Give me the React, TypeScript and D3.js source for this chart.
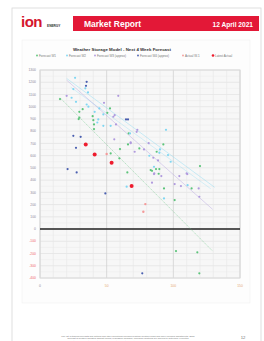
import { useMemo } from "react";
import * as d3 from "d3";

type Pt = [number, number];

const W = 264;
const H = 341;
const PLOT = { left: 40, right: 240, top: 70, bottom: 278 };

const yTicks = [1300, 1200, 1100, 1000, 900, 800, 700, 600, 500, 400, 300, 200, 100, 0, -100, -200, -300, -400];
const xTicks = [0, 50, 100, 150];

const seriesNames = [
  "Forecast W1",
  "Forecast W2",
  "Forecast W3 (approx)",
  "Forecast W4 (approx)",
  "Actual W-1",
  "Latest Actual",
];

const greenPts: Pt[] = [
  [15, 1062], [32, 980], [29.5, 958], [52.5, 986], [50.5, 950], [39.5, 923], [29.5, 910], [29, 899],
  [40, 890], [40.5, 855], [40.5, 817], [66.5, 782], [66, 692], [60, 654], [53, 618], [59.5, 578],
  [65.5, 463], [74.5, 659], [92.5, 692], [87.5, 632], [83, 482], [87, 490], [89.5, 490], [120, 515],
  [89, 452], [84, 476], [93, 332], [113.7, 332], [101, 237], [102, -180], [118, -190], [119.5, -362],
];
const lightBluePts: Pt[] = [
  [26.3, 1236], [25, 1144], [34, 1150], [36, 1117], [23.7, 1073], [27, 1040], [35, 1018], [36.3, 1000],
  [44.5, 986], [41, 958], [47.5, 937], [43.7, 896], [43, 871], [47.5, 844], [53, 844], [94.5, 811],
  [67.5, 782], [90, 651], [89.5, 623], [96, 605], [82, 599], [98, 550], [85.5, 509], [110.7, 359],
  [65, 346], [93, 250],
];
const purplePts: Pt[] = [
  [20, 1089], [58.7, 1089], [48, 1032], [56, 931], [55, 918], [57, 855], [55.7, 733], [72.5, 795],
  [68, 708], [71, 632], [73, 811], [68, 702], [81.5, 702], [78, 651], [85, 583], [88.5, 561],
  [85.7, 455], [110, 455], [85.5, 449], [91, 433], [104.5, 433], [110.5, 449], [84, 379], [101, 368],
  [105.7, 351], [119, 332], [119.5, 264],
];
const darkBluePts: Pt[] = [
  [35, 1203], [34.5, 1171], [64.5, 896], [66, 896], [25, 762], [30.5, 754], [27, 664], [20.7, 490],
  [27.5, 463], [49, 291], [76.7, -362],
];
const lightRedPts: Pt[] = [[50, 613], [79, 204], [77.5, 141]];
const redPts: Pt[] = [[34.3, 692], [41, 610], [53.7, 542], [68.7, 351]];

const trendLightBlue: Pt[] = [[20, 1231], [131, 341]];
const trendLightBlue2: Pt[] = [[23, 1160], [128, 330]];
const trendPurple: Pt[] = [[20, 1217], [129.5, 161]];
const trendGreen: Pt[] = [[15, 1073], [129.5, -180]];

const COLORS = ["#5cc47a", "#7fd6f2", "#b09ade", "#4a5fb0", "#f49a9a", "#ee1c2e"];

export default function App() {
  const x = useMemo(() => d3.scaleLinear().domain([0, 150]).range([PLOT.left, PLOT.right]), []);
  const y = useMemo(() => d3.scaleLinear().domain([-400, 1300]).range([PLOT.bottom, PLOT.top]), []);
  const line = d3.line<Pt>().x((d) => x(d[0])).y((d) => y(d[1]));

  const series: { pts: Pt[]; color: string; r: number }[] = [
    { pts: greenPts, color: COLORS[0], r: 1.1 },
    { pts: lightBluePts, color: COLORS[1], r: 1.1 },
    { pts: purplePts, color: COLORS[2], r: 1.1 },
    { pts: darkBluePts, color: COLORS[3], r: 1.1 },
    { pts: lightRedPts, color: COLORS[4], r: 1.2 },
    { pts: redPts, color: COLORS[5], r: 2.0 },
  ];

  const minorX = d3.range(0, 151, 10);
  const minorY = d3.range(-400, 1301, 50);

  // legend positions (left x of each item)
  const legendX = [37, 67, 95, 138, 183, 213];

  return (
    <svg
      width={W}
      height={H}
      style={{ position: "absolute", left: 0, top: 0, background: "#fff", fontFamily: "Liberation Sans, Arial, sans-serif" }}
    >
      {/* page */}
      <rect x={12} y={8} width={249} height={345} fill="#fff" stroke="#d8d8d8" strokeWidth={0.8} />

      {/* logo */}
      <text x={21} y={27} fontSize={15} fontWeight={700} fill="#d4162e" letterSpacing={-0.5}>ion</text>
      <text x={47} y={27} fontSize={3.2} fontWeight={700} fill="#333">ENERGY</text>

      {/* banner */}
      <rect x={73} y={16} width={186} height={15} fill="#e31837" />
      <text x={84} y={27} fontSize={8.5} fontWeight={700} fill="#fff">Market Report</text>
      <text x={253} y={26.5} fontSize={6.6} fontWeight={700} fill="#fff" textAnchor="end">12 April 2021</text>

      {/* chart card */}
      <rect x={22} y={40} width={228} height={263} fill="#fdfdfd" stroke="#f0f0f0" strokeWidth={0.6} />
      <text x={122} y={50.5} fontSize={4.4} fontWeight={700} fill="#333" textAnchor="middle">
        Weather Storage Model - Next 4 Week Forecast
      </text>
      {seriesNames.map((n, i) => (
        <g key={n}>
          <circle cx={legendX[i]} cy={55.5} r={i === 5 ? 1.3 : 0.9} fill={COLORS[i]} />
          <text x={legendX[i] + 2} y={56.6} fontSize={3} fill="#777">{n}</text>
        </g>
      ))}

      {/* plot background & grid */}
      <rect x={PLOT.left} y={PLOT.top} width={PLOT.right - PLOT.left} height={PLOT.bottom - PLOT.top} fill="#f7f7f7" />
      {minorY.map((v) => (
        <line key={"my" + v} x1={PLOT.left} x2={PLOT.right} y1={y(v)} y2={y(v)}
          stroke={v % 100 === 0 ? "#dedede" : "#ededed"} strokeWidth={0.6} />
      ))}
      {minorX.map((v) => (
        <line key={"mx" + v} x1={x(v)} x2={x(v)} y1={PLOT.top} y2={PLOT.bottom}
          stroke={v % 50 === 0 ? "#d0d0d0" : "#e8e8e8"} strokeWidth={v % 50 === 0 ? 0.8 : 0.6} />
      ))}
      <rect x={PLOT.left} y={PLOT.top} width={PLOT.right - PLOT.left} height={PLOT.bottom - PLOT.top}
        fill="none" stroke="#dadada" strokeWidth={1} />
      <line x1={PLOT.left} x2={PLOT.right} y1={y(0)} y2={y(0)} stroke="#222" strokeWidth={1.4} />

      {/* axes labels */}
      {yTicks.map((v) => (
        <text key={"yt" + v} x={36} y={y(v) + 1.2} fontSize={3.4} textAnchor="end"
          fill={v < 0 ? "#f06a6a" : "#8a8a9a"}>{v}</text>
      ))}
      {xTicks.map((v) => (
        <text key={"xt" + v} x={x(v)} y={287} fontSize={3.4} textAnchor="middle"
          fill={v === 0 ? "#8a8a9a" : "#e5a870"}>{v}</text>
      ))}

      {/* trend lines */}
      <path d={line(trendLightBlue) ?? ""} stroke={COLORS[1]} strokeWidth={0.5} fill="none" opacity={0.8} />
      <path d={line(trendLightBlue2) ?? ""} stroke={COLORS[1]} strokeWidth={0.5} fill="none" opacity={0.6} />
      <path d={line(trendPurple) ?? ""} stroke={COLORS[2]} strokeWidth={0.5} fill="none" opacity={0.8} />
      <path d={line(trendGreen) ?? ""} stroke={COLORS[0]} strokeWidth={0.5} fill="none" strokeDasharray="1.5 0.8" opacity={0.8} />

      {/* points */}
      {series.map((s, si) =>
        s.pts.map((p, pi) => (
          <circle key={si + "-" + pi} cx={x(p[0])} cy={y(p[1])} r={s.r} fill={s.color} />
        ))
      )}

      {/* footer */}
      <g fontSize={2.3} fill="#777" textAnchor="middle">
        <text x={128} y={336.5}>The list of trading forecasts and actuals and other definitions includes practical weather flows and more included adjustments. Each</text>
        <text x={128} y={339.1}>forecast is weather adjusted against norms; regression changes, including variations are applied to determine expected</text>
        <text x={128} y={341.7}>injection. The results are not necessarily indicative of future positions and are provided for information purposes only.</text>
      </g>
      <text x={243} y={339} fontSize={4.2} fill="#777" textAnchor="middle">12</text>
    </svg>
  );
}
